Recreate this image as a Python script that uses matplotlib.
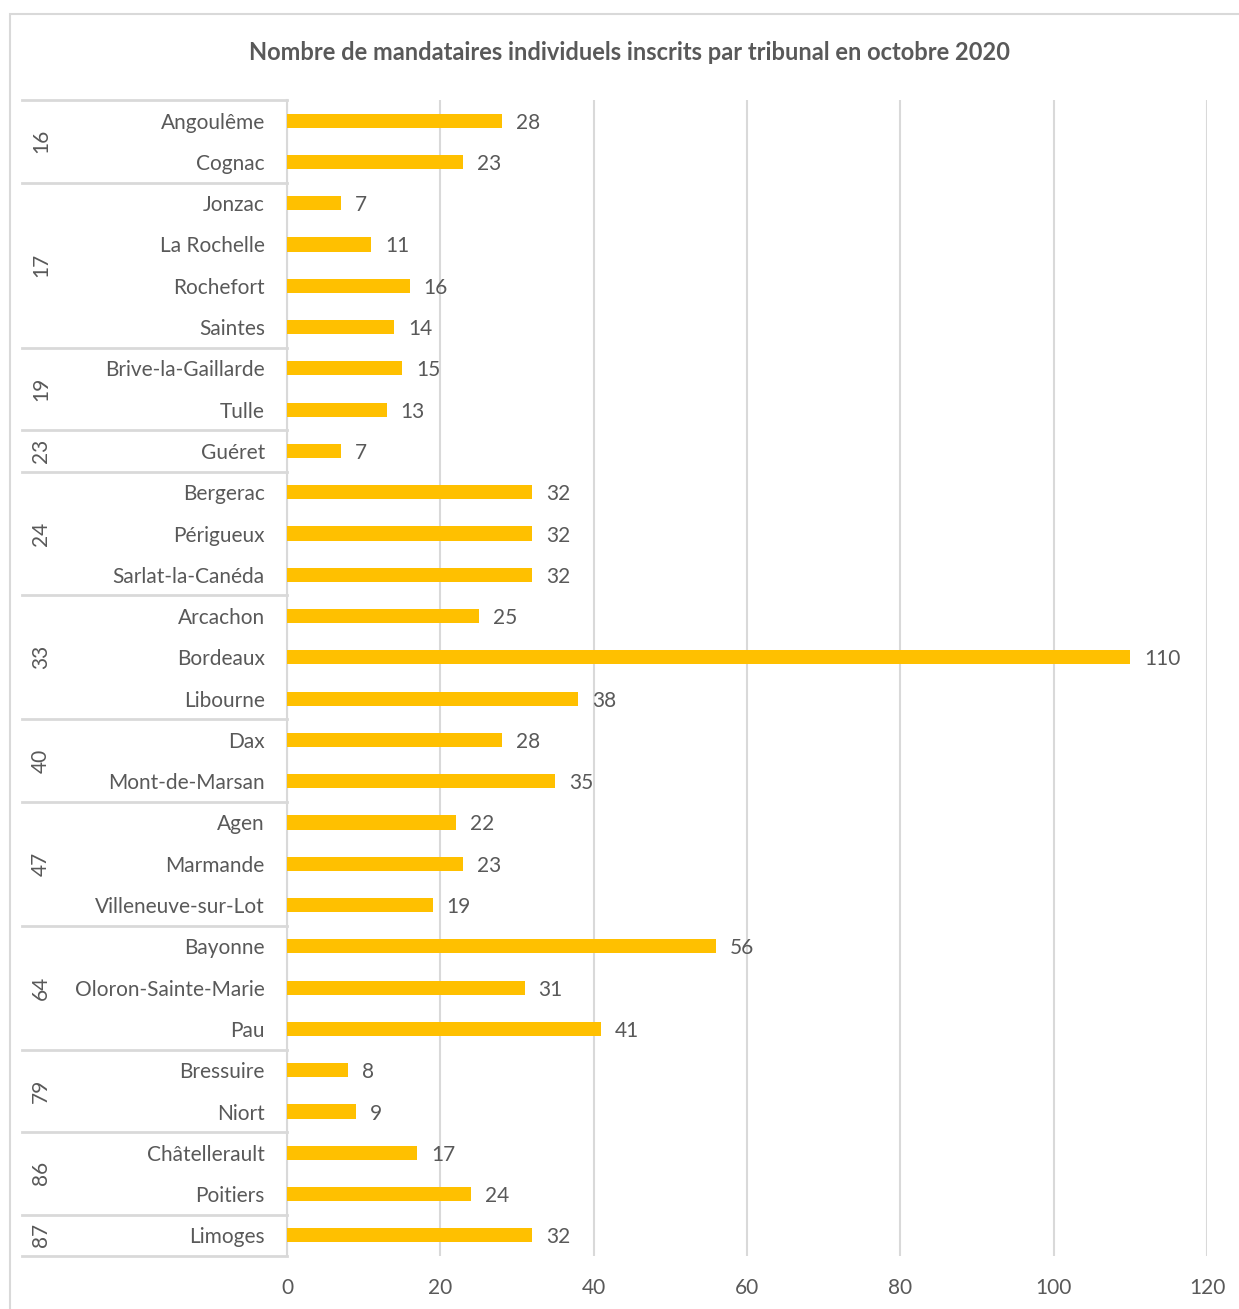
import matplotlib.pyplot as plt
import matplotlib.transforms as mtransforms
from matplotlib.patches import Rectangle

plt.rcParams['font.family'] = ['Lato', 'DejaVu Sans']

# data
groups = ['16', '17', '19', '23', '24', '33', '40', '47', '64', '79', '86', '87']
group_members = [
    ['Angoulême', 'Cognac'],
    ['Jonzac', 'La Rochelle', 'Rochefort', 'Saintes'],
    ['Brive-la-Gaillarde', 'Tulle'],
    ['Guéret'],
    ['Bergerac', 'Périgueux', 'Sarlat-la-Canéda'],
    ['Arcachon', 'Bordeaux', 'Libourne'],
    ['Dax', 'Mont-de-Marsan'],
    ['Agen', 'Marmande', 'Villeneuve-sur-Lot'],
    ['Bayonne', 'Oloron-Sainte-Marie', 'Pau'],
    ['Bressuire', 'Niort'],
    ['Châtellerault', 'Poitiers'],
    ['Limoges'],
]
values = [28, 23, 7, 11, 16, 14, 15, 13, 7, 32, 32, 32, 25, 110, 38,
          28, 35, 22, 23, 19, 56, 31, 41, 8, 9, 17, 24, 32]
xticks = [0, 20, 40, 60, 80, 100, 120]
title = 'Nombre de mandataires individuels inscrits par tribunal en octobre 2020'

tribunaux = [t for g in group_members for t in g]

text_col = '#595959'
grid_col = '#d9d9d9'
bar_col = '#FFC000'

fig = plt.figure(figsize=(12.39, 13.09), dpi=100)
ax = fig.add_axes([287 / 1239, 1 - 1256 / 1309, 920 / 1239, 1156 / 1309])

pos = list(range(len(tribunaux)))
ax.barh(pos, values, height=0.34, color=bar_col, zorder=3)
for y, v in zip(pos, values):
    ax.annotate(str(v), (v, y), xytext=(10, 0), textcoords='offset points',
                va='center_baseline', ha='left', fontsize=15, color=text_col)

ax.set_xlim(0, 120)
ax.set_ylim(len(tribunaux) - 0.5, -0.5)
ax.set_xticks(xticks)
ax.set_xticklabels([str(t) for t in xticks])
ax.set_yticks(pos)
ax.set_yticklabels(tribunaux, va='center_baseline')
ax.tick_params(axis='both', length=0, labelsize=15, labelcolor=text_col)
ax.tick_params(axis='y', pad=16)
ax.tick_params(axis='x', pad=16)
ax.grid(axis='x', color=grid_col, linewidth=1.5, zorder=0)
for s in ['top', 'right', 'bottom']:
    ax.spines[s].set_visible(False)
ax.spines['left'].set_color(grid_col)
ax.spines['left'].set_linewidth(1.5)

# group separators and labels
trans = mtransforms.blended_transform_factory(ax.transAxes, ax.transData)
x0 = (22 - 287) / 920
start = 0
ax.plot([x0, 0], [-0.5, -0.5], transform=trans, color=grid_col, lw=2, clip_on=False)
for g, members in zip(groups, group_members):
    end = start + len(members)
    ax.plot([x0, 0], [end - 0.5, end - 0.5], transform=trans, color=grid_col,
            lw=2, clip_on=False)
    ax.text((41 - 287) / 920, (start + end - 1) / 2, g, transform=trans,
            rotation=90, ha='center', va='center', fontsize=15, color=text_col)
    start = end

fig.text(0.508, 1 - 52 / 1309, title, ha='center', va='center',
         fontsize=17, fontweight='bold', color=text_col)

fig.patches.append(Rectangle((10 / 1239, -0.01), 1.0, 1 - 14 / 1309 + 0.01,
                             transform=fig.transFigure, fill=False,
                             edgecolor=grid_col, lw=1.5))

fig.savefig('out.png', dpi=100)
